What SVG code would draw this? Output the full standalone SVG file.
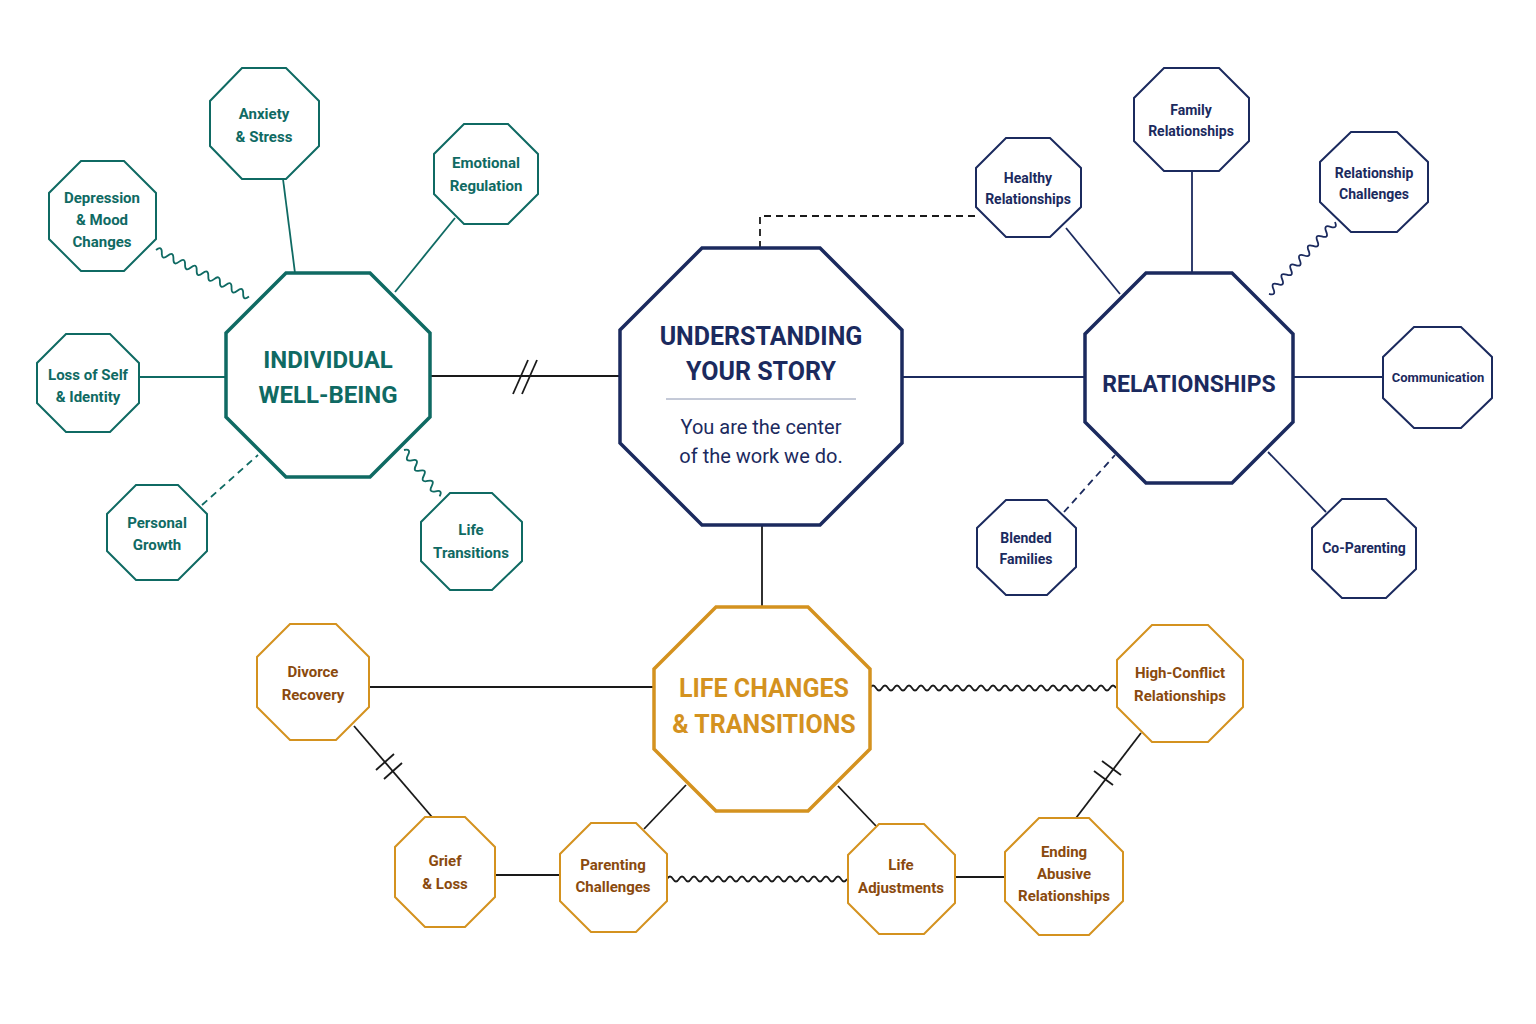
<svg xmlns="http://www.w3.org/2000/svg" width="1536" height="1024" viewBox="0 0 1536 1024">
<style>
.t{fill:#fff;stroke:#0f6a63;stroke-width:2}
.n{fill:#fff;stroke:#1b2a5e;stroke-width:2}
.o{fill:#fff;stroke:#d4921f;stroke-width:2}
.big{stroke-width:3.5}
text{font-family:Roboto,"Liberation Sans",sans-serif;font-weight:bold;text-anchor:middle}
.tt{fill:#0f6a63;font-size:15px}.nt{fill:#1b2a5e;font-size:14px}.ot{fill:#8a4a0e;font-size:15px}
.c{fill:none;stroke-width:1.8}
</style>
<rect width="1536" height="1024" fill="#fff"/>
<g id="connectors">
<g stroke="#0f6a63" class="c">
<line x1="430" y1="376" x2="619" y2="376" stroke="#1a1a1a"/>
<line x1="513" y1="394" x2="528" y2="360" stroke="#1a1a1a"/><line x1="522" y1="394" x2="537" y2="360" stroke="#1a1a1a"/>
<line x1="283" y1="179" x2="295" y2="273"/>
<line x1="455" y1="218" x2="395" y2="292"/>
<line x1="139" y1="377" x2="226" y2="377"/>
<line x1="202" y1="505" x2="258" y2="455" stroke-dasharray="7,5"/>
<path transform="translate(156,250) rotate(26.6)" d="M0,0 q3.25,-7 6.5,0 t6.5,0 t6.5,0 t6.5,0 t6.5,0 t6.5,0 t6.5,0 t6.5,0 t6.5,0 t6.5,0 t6.5,0 t6.5,0 t6.5,0 t6.5,0 t6.5,0 t6.5,0"/>
<path transform="translate(404,450) rotate(52.5)" d="M0,0 q3.25,-7 6.5,0 t6.5,0 t6.5,0 t6.5,0 t6.5,0 t6.5,0 t6.5,0 t6.5,0 t6.5,0"/>
</g>
<g stroke="#1b2a5e" class="c">
<line x1="902" y1="377" x2="1085" y2="377"/>
<line x1="762" y1="525" x2="762" y2="607" stroke="#1a1a1a"/>
<path d="M760,248 V216 H976" stroke="#1a1a1a" stroke-dasharray="7,5"/>
<line x1="1066" y1="228" x2="1120" y2="294"/>
<line x1="1192" y1="171" x2="1192" y2="273"/>
<line x1="1293" y1="377" x2="1383" y2="377"/>
<line x1="1064" y1="512" x2="1115" y2="455" stroke-dasharray="7,5"/>
<line x1="1268" y1="452" x2="1326" y2="512"/>
<path transform="translate(1335,222) rotate(132.6)" d="M0,0 q3.25,-7 6.5,0 t6.5,0 t6.5,0 t6.5,0 t6.5,0 t6.5,0 t6.5,0 t6.5,0 t6.5,0 t6.5,0 t6.5,0 t6.5,0 t6.5,0 t6.5,0 t6.5,0"/>
</g>
<g stroke="#1a1a1a" class="c">
<line x1="369" y1="687" x2="654" y2="687"/>
<path d="M870,688 q3,-5 6,0 t6,0 t6,0 t6,0 t6,0 t6,0 t6,0 t6,0 t6,0 t6,0 t6,0 t6,0 t6,0 t6,0 t6,0 t6,0 t6,0 t6,0 t6,0 t6,0 t6,0 t6,0 t6,0 t6,0 t6,0 t6,0 t6,0 t6,0 t6,0 t6,0 t6,0 t6,0 t6,0 t6,0 t6,0 t6,0 t6,0 t6,0 t6,0 t6,0 t6,0"/>
<line x1="354" y1="726" x2="432" y2="817"/>
<line x1="376" y1="770" x2="394" y2="754"/><line x1="384" y1="779" x2="402" y2="763"/>
<line x1="1141" y1="733" x2="1076" y2="818"/>
<line x1="1102" y1="761" x2="1121" y2="775"/><line x1="1094" y1="771" x2="1113" y2="785"/>
<line x1="495" y1="875" x2="560" y2="875"/>
<path d="M667,879 q3,-5 6,0 t6,0 t6,0 t6,0 t6,0 t6,0 t6,0 t6,0 t6,0 t6,0 t6,0 t6,0 t6,0 t6,0 t6,0 t6,0 t6,0 t6,0 t6,0 t6,0 t6,0 t6,0 t6,0 t6,0 t6,0 t6,0 t6,0 t6,0 t6,0 t6,0"/>
<line x1="955" y1="877" x2="1005" y2="877"/>
<line x1="686" y1="785" x2="644" y2="829"/>
<line x1="838" y1="786" x2="876" y2="826"/>
</g>
</g>
<g id="center"><polygon class="n big" points="702,248 820,248 902,330 902,443 820,525 702,525 620,443 620,330"/>
<text x="761" y="345" style="fill:#1b2a5e;font-size:25px">UNDERSTANDING</text><text x="761" y="380" style="fill:#1b2a5e;font-size:25px">YOUR STORY</text>
<line x1="666" y1="399" x2="856" y2="399" stroke="#8a94b0" stroke-width="1"/>
<text x="761" y="434" style="fill:#1b2a5e;font-size:20px;font-weight:normal">You are the center</text><text x="761" y="463" style="fill:#1b2a5e;font-size:20px;font-weight:normal">of the work we do.</text></g>
<g id="individual"><polygon class="t big" points="286,273 370,273 430,333 430,417 370,477 286,477 226,417 226,333"/>
<text x="328" y="368" style="fill:#0f6a63;font-size:24px">INDIVIDUAL</text><text x="328" y="403" style="fill:#0f6a63;font-size:24px">WELL-BEING</text></g>
<g id="relationships"><polygon class="n big" points="1146,273 1232,273 1293,334 1293,422 1232,483 1146,483 1085,422 1085,334"/>
<text x="1189" y="392" style="fill:#1b2a5e;font-size:23px">RELATIONSHIPS</text></g>
<g id="lifechanges"><polygon class="o big" points="716,607 808,607 870,669 870,749 808,811 716,811 654,749 654,669"/>
<text x="764" y="697" style="fill:#d4921f;font-size:25px">LIFE CHANGES</text><text x="764" y="733" style="fill:#d4921f;font-size:25px">&amp; TRANSITIONS</text></g>
<g id="anxiety"><polygon class="t" points="242,68 286,68 319,101 319,146 286,179 242,179 210,146 210,101"/><text class="tt" x="264" y="119">Anxiety</text><text class="tt" x="264" y="142">&amp; Stress</text></g>
<g id="emotional"><polygon class="t" points="464,124 508,124 538,154 538,194 508,224 464,224 434,194 434,154"/><text class="tt" x="486" y="168">Emotional</text><text class="tt" x="486" y="191">Regulation</text></g>
<g id="depression"><polygon class="t" points="81,161 124,161 156,193 156,239 124,271 81,271 49,239 49,193"/><text class="tt" x="102" y="203">Depression</text><text class="tt" x="102" y="225">&amp; Mood</text><text class="tt" x="102" y="247">Changes</text></g>
<g id="loss"><polygon class="t" points="66,334 110,334 139,363 139,403 110,432 66,432 37,403 37,363"/><text class="tt" x="88" y="380">Loss of Self</text><text class="tt" x="88" y="402">&amp; Identity</text></g>
<g id="personal"><polygon class="t" points="136,485 178,485 207,514 207,551 178,580 136,580 107,551 107,514"/><text class="tt" x="157" y="528">Personal</text><text class="tt" x="157" y="550">Growth</text></g>
<g id="lifetransitions"><polygon class="t" points="450,493 492,493 522,522 522,561 492,590 450,590 421,561 421,522"/><text class="tt" x="471" y="535">Life</text><text class="tt" x="471" y="558">Transitions</text></g>
<g id="healthy"><polygon class="n" points="1006,138 1050,138 1081,168 1081,207 1050,237 1006,237 976,207 976,168"/><text class="nt" x="1028" y="183">Healthy</text><text class="nt" x="1028" y="204">Relationships</text></g>
<g id="family"><polygon class="n" points="1164,68 1219,68 1249,98 1249,141 1219,171 1164,171 1134,141 1134,98"/><text class="nt" x="1191" y="115">Family</text><text class="nt" x="1191" y="136">Relationships</text></g>
<g id="relchallenges"><polygon class="n" points="1351,132 1397,132 1428,162 1428,202 1397,232 1351,232 1320,202 1320,162"/><text class="nt" x="1374" y="178">Relationship</text><text class="nt" x="1374" y="199">Challenges</text></g>
<g id="communication"><polygon class="n" points="1414,327 1461,327 1492,357 1492,398 1461,428 1414,428 1383,398 1383,357"/><text class="nt" x="1438" y="382" style="font-size:13px">Communication</text></g>
<g id="blended"><polygon class="n" points="1006,500 1047,500 1076,528 1076,567 1047,595 1006,595 977,567 977,528"/><text class="nt" x="1026" y="543">Blended</text><text class="nt" x="1026" y="564">Families</text></g>
<g id="coparenting"><polygon class="n" points="1342,499 1386,499 1416,528 1416,569 1386,598 1342,598 1312,569 1312,528"/><text class="nt" x="1364" y="553">Co-Parenting</text></g>
<g id="divorce"><polygon class="o" points="290,624 336,624 369,657 369,707 336,740 290,740 257,707 257,657"/><text class="ot" x="313" y="677">Divorce</text><text class="ot" x="313" y="700">Recovery</text></g>
<g id="highconflict"><polygon class="o" points="1152,625 1208,625 1243,660 1243,707 1208,742 1152,742 1117,707 1117,660"/><text class="ot" x="1180" y="678">High-Conflict</text><text class="ot" x="1180" y="701">Relationships</text></g>
<g id="grief"><polygon class="o" points="425,817 465,817 495,847 495,897 465,927 425,927 395,897 395,847"/><text class="ot" x="445" y="866">Grief</text><text class="ot" x="445" y="889">&amp; Loss</text></g>
<g id="parenting"><polygon class="o" points="591,823 636,823 667,854 667,901 636,932 591,932 560,901 560,854"/><text class="ot" x="613" y="870">Parenting</text><text class="ot" x="613" y="892">Challenges</text></g>
<g id="lifeadj"><polygon class="o" points="879,824 924,824 955,855 955,903 924,934 879,934 848,903 848,855"/><text class="ot" x="901" y="870">Life</text><text class="ot" x="901" y="893">Adjustments</text></g>
<g id="ending"><polygon class="o" points="1039,818 1089,818 1123,852 1123,901 1089,935 1039,935 1005,901 1005,852"/><text class="ot" x="1064" y="857">Ending</text><text class="ot" x="1064" y="879">Abusive</text><text class="ot" x="1064" y="901">Relationships</text></g>
</svg>
